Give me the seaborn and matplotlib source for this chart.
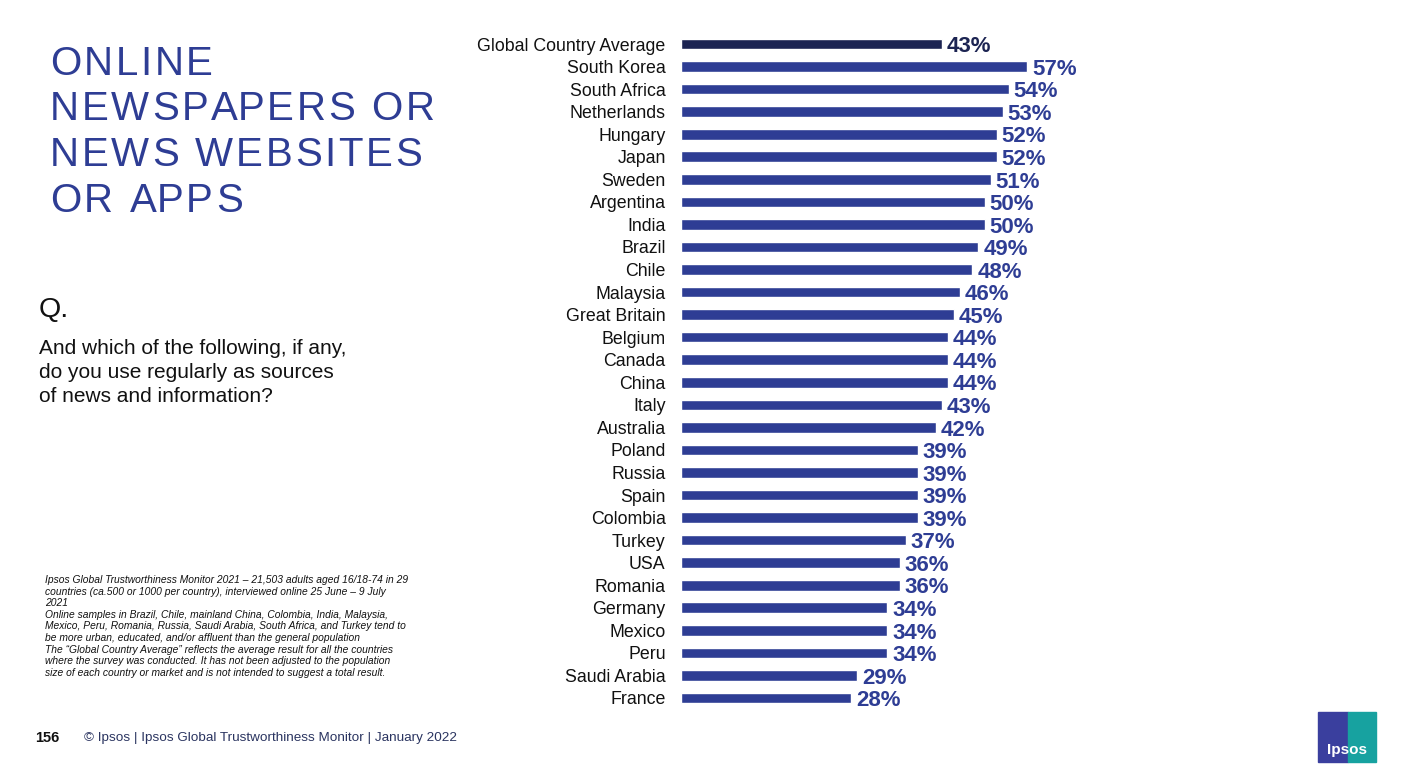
import matplotlib.pyplot as plt
import pandas as pd
import seaborn as sns
from matplotlib.patches import Rectangle


countries = [
    "Global Country Average", "South Korea", "South Africa", "Netherlands", "Hungary",
    "Japan", "Sweden", "Argentina", "India", "Brazil", "Chile", "Malaysia",
    "Great Britain", "Belgium", "Canada", "China", "Italy", "Australia", "Poland",
    "Russia", "Spain", "Colombia", "Turkey", "USA", "Romania", "Germany", "Mexico",
    "Peru", "Saudi Arabia", "France",
]
values = [43, 57, 54, 53, 52, 52, 51, 50, 50, 49, 48, 46, 45, 44, 44, 44, 43, 42,
          39, 39, 39, 39, 37, 36, 36, 34, 34, 34, 29, 28]

title_lines = ["ONLINE", "NEWSPAPERS OR", "NEWS WEBSITES", "OR APPS"]
question_lines = [
    "And which of the following, if any,",
    "do you use regularly as sources",
    "of news and information?",
]
footnote_lines = [
    "Ipsos Global Trustworthiness Monitor 2021 \u2013 21,503 adults aged 16/18-74 in 29",
    "countries (ca.500 or 1000 per country), interviewed online 25 June \u2013 9 July",
    "2021",
    "Online samples in Brazil, Chile, mainland China, Colombia, India, Malaysia,",
    "Mexico, Peru, Romania, Russia, Saudi Arabia, South Africa, and Turkey tend to",
    "be more urban, educated, and/or affluent than the general population",
    "The \u201cGlobal Country Average\u201d reflects the average result for all the countries",
    "where the survey was conducted. It has not been adjusted to the population",
    "size of each country or market and is not intended to suggest a total result.",
]

NAVY = "#1c2452"
BLUE = "#2e3d94"

sns.set_theme(style="white")
plt.rcParams["font.family"] = ["Liberation Sans", "DejaVu Sans"]

df = pd.DataFrame({"country": countries, "value": values})
palette = [NAVY] + [BLUE] * (len(countries) - 1)

W, H = 1406, 778
fig = plt.figure(figsize=(W / 100, H / 100), dpi=100)
renderer = fig.canvas.get_renderer()

row = (698 - 44) / (len(countries) - 1)
top_px = 44 - row / 2
bottom_px = 698 + row / 2
left_px, right_px = 681, 681 + 100 * 6.07
ax = fig.add_axes([left_px / W, 1 - bottom_px / H,
                   (right_px - left_px) / W, (bottom_px - top_px) / H])

sns.barplot(data=df, x="value", y="country", hue="country", palette=palette,
            legend=False, width=0.47, ax=ax, saturation=1)
ax.set_xlim(0, 100)
ax.set_xlabel("")
ax.set_ylabel("")
ax.set_xticks([])
ax.tick_params(axis="y", length=0, pad=11, labelsize=12.8, labelcolor="#111111")
for s in ax.spines.values():
    s.set_visible(False)

for i, v in enumerate(values):
    ax.text(v + 0.8, i + 0.12, f"{v}%", va="center", ha="left", fontsize=16,
            fontweight="bold", color=NAVY if i == 0 else BLUE)


def text_width(s, size):
    t = fig.text(0, 0, s, fontsize=size)
    w = t.get_window_extent(renderer).width
    t.remove()
    return w


# title with letter spacing
title_size = 29
track = 2.7
ref_w = text_width("I", title_size)
for k, line in enumerate(title_lines):
    y = 1 - (64 + k * 45.5) / H
    for i, ch in enumerate(line):
        if ch == " ":
            continue
        off = text_width(line[:i] + "I", title_size) - ref_w if i else 0
        fig.text((50 + off + i * track) / W, y, ch, fontsize=title_size,
                 color=BLUE, va="center", ha="left")

fig.text(39 / W, 1 - 310 / H, "Q.", fontsize=20.5, color="#111111", va="center")
for k, line in enumerate(question_lines):
    fig.text(39 / W, 1 - (348 + k * 24.5) / H, line, fontsize=15,
             color="#111111", va="center")
for k, line in enumerate(footnote_lines):
    fig.text(45 / W, 1 - (580 + k * 11.6) / H, line, fontsize=7.4, style="italic",
             color="#111111", va="center")

fig.text(35 / W, 1 - 738 / H, "156", fontsize=10.5, fontweight="heavy",
         color="#111111", va="center")
fig.text(84 / W, 1 - 738 / H, "\u00a9 Ipsos | Ipsos Global Trustworthiness Monitor | January 2022",
         fontsize=9.7, color="#2a3460", va="center")

# logo
fig.patches.append(Rectangle((1318 / W, 1 - 762 / H), 30 / W, 50 / H,
                             transform=fig.transFigure, color="#3a3f9e"))
fig.patches.append(Rectangle((1348 / W, 1 - 762 / H), 28 / W, 50 / H,
                             transform=fig.transFigure, color="#17a2a0"))
fig.text(1347 / W, 1 - 750 / H, "Ipsos", fontsize=11, fontweight="bold",
         color="white", ha="center", va="center")

fig.savefig("out.png", dpi=100)
